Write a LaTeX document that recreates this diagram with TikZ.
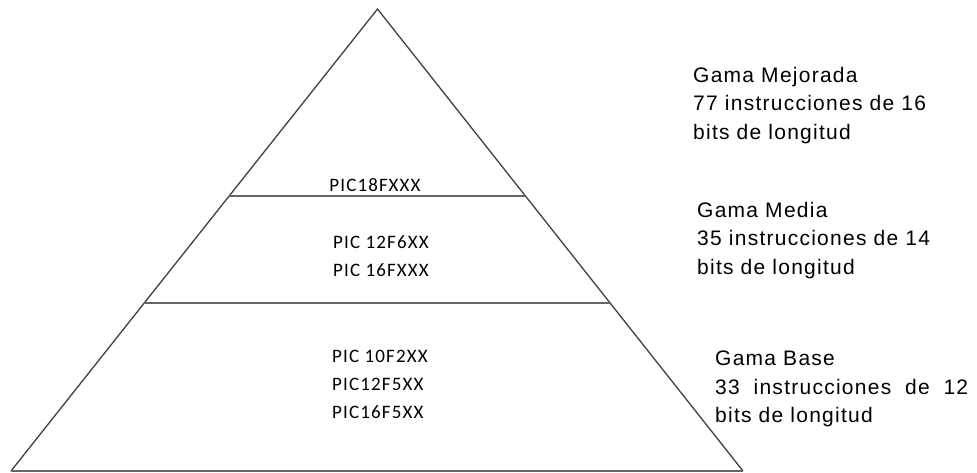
\documentclass[tikz,border=0pt]{standalone}
\usepackage{fontspec}
\setmainfont{Liberation Sans}
\newfontfamily\picfont{Carlito}
\usetikzlibrary{calc}
\begin{document}
\begin{tikzpicture}[x=1pt,y=-1pt,
  edge/.style={draw=black!75,line width=1.3pt},
  tier/.style={draw=black!60,line width=2pt},
  chip/.style={font=\picfont\fontsize{19}{28}\selectfont\addfontfeature{LetterSpace=6},align=left,inner sep=0pt},
  gama/.style={font=\fontsize{21}{28.5}\selectfont\addfontfeature{LetterSpace=6},align=left,inner sep=0pt,anchor=north west}]
\useasboundingbox (0,0) rectangle (977,473);
% pyramid outline
\coordinate (apex) at (377.5,9);
\coordinate (bl) at (11,471);
\coordinate (br) at (743,471);
\draw[edge,line join=miter] (bl) -- (apex) -- (br);
\draw[tier] (bl) -- (br);
% tier separators
\coordinate (l1) at ($(apex)!0.4048!(bl)$);
\coordinate (r1) at ($(apex)!0.4048!(br)$);
\coordinate (l2) at ($(apex)!0.6364!(bl)$);
\coordinate (r2) at ($(apex)!0.6364!(br)$);
\draw[tier] (l1) -- (r1);
\draw[tier] (l2) -- (r2);
% families inside each tier
\node[chip] (top) at (375,185) {PIC18FXXX};
\node[chip,anchor=west] (mid) at (333,256) {PIC 12F6XX\\PIC 16FXXX};
\node[chip,anchor=west] (low) at (332,384) {PIC 10F2XX\\PIC12F5XX\\PIC16F5XX};
% descriptions on the right
\node[gama] (g1) at (693,67) {Gama Mejorada\\77 instrucciones de 16\\bits de longitud};
\node[gama] (g2) at (697,202) {Gama Media\\35 instrucciones de 14\\bits de longitud};
\node[gama] (g3) at (715,351) {Gama Base\\\makebox[253pt][s]{33 instrucciones de 12}\\bits de longitud};
\end{tikzpicture}
\end{document}
